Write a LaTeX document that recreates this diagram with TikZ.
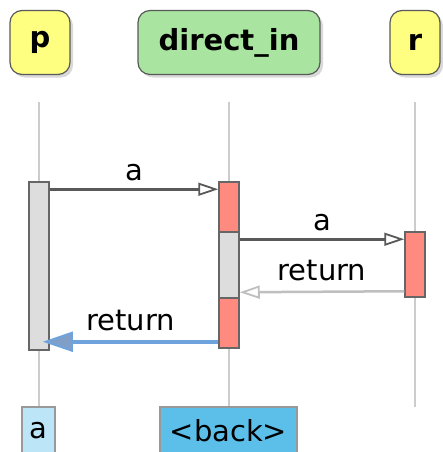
\documentclass[tikz,border=0pt]{standalone}
\usepackage{fontspec}
\setmainfont{DejaVu Sans}
\usetikzlibrary{arrows.meta, shadows, positioning}
\definecolor{partyellow}{HTML}{FEFE80}
\definecolor{partgreen}{HTML}{A9E5A0}
\definecolor{actred}{HTML}{FF8A80}
\definecolor{actgray}{HTML}{DDDDDD}
\definecolor{outlight}{HTML}{BDE5F8}
\definecolor{outblue}{HTML}{5BBFEA}
\definecolor{retblue}{HTML}{6FA3DE}
\definecolor{headblue}{HTML}{7F9FC8}

\begin{document}
\begin{tikzpicture}[x=1pt, y=-1pt, font=\fontsize{29}{34}\selectfont,
		head/.style={draw=black!65, line width=1.2pt, rounded corners=12pt, minimum height=64pt, inner sep=0pt,
			font=\fontsize{29}{34}\selectfont\bfseries,
			drop shadow={shadow xshift=3pt, shadow yshift=-3pt, opacity=0.3}},
		life/.style={draw=black!20, line width=1.2pt},
		bar/.style={draw=black!60, line width=1.5pt, minimum width=20pt, inner sep=0pt},
		outbox/.style={draw=black!40, line width=1.5pt, anchor=north, minimum height=48pt, inner sep=0pt},
		msg/.style={draw=black!65, line width=2.5pt, -{Triangle[open, length=20pt, width=13pt, line width=1.8pt]}},
		ret/.style={draw=black!25, line width=2.5pt, -{Triangle[open, length=20pt, width=13pt, line width=1.8pt]}}]
	\useasboundingbox (0,0) rectangle (442,452);
	% participants
	\node[head, fill=partyellow, minimum width=60pt] (p) at (40,42.5) {p};
	\node[head, fill=partgreen, minimum width=182pt] (d) at (229,42.5) {direct\_in};
	\node[head, fill=partyellow, minimum width=50pt] (r) at (415,42.5) {r};
	% outputs
	\node[outbox, fill=outlight, minimum width=33pt] (pout) at (38.5,406) {a};
	\node[outbox, fill=outblue, minimum width=137pt] (dout) at (228.5,406) {<back>};
	% lifelines
	\coordinate (ptop) at (39,102);
	\coordinate (dtop) at (229,102);
	\coordinate (rtop) at (415,102);
	\coordinate (rend) at (415,407);
	\draw[life] (ptop) -- (pout.north -| ptop);
	\draw[life] (dtop) -- (dout.north -| dtop);
	\draw[life] (rtop) -- (rend);
	% activations
	\node[bar, fill=actgray, minimum height=168pt] (pact) at (39,266) {};
	\node[bar, fill=actred, minimum height=166pt] (dact) at (229,265) {};
	\node[bar, fill=actgray, minimum height=66pt] (dsub) at (229,265) {};
	\node[bar, fill=actred, minimum height=65pt] (ract) at (415,264.5) {};
	% messages
	\draw[msg] ([yshift=-8pt]pact.north east) -- node[above=4pt] {a} ([yshift=-8pt]dact.north west);
	\draw[msg] ([yshift=-8pt]dsub.north east) -- node[above=4pt] {a} ([yshift=-8pt]ract.north west);
	\draw[ret] ([yshift=6.5pt]ract.south west) -- node[above=6pt] {return} ([yshift=6.5pt]dsub.south east);
	\draw[retblue, line width=3.5pt, -{Triangle[length=30pt, width=20pt, fill=headblue, line width=2pt]}]
		([yshift=7pt]dact.south west) -- node[above=6pt, text=black] {return} ([xshift=-7pt, yshift=9pt]pact.south east);
\end{tikzpicture}
\end{document}
